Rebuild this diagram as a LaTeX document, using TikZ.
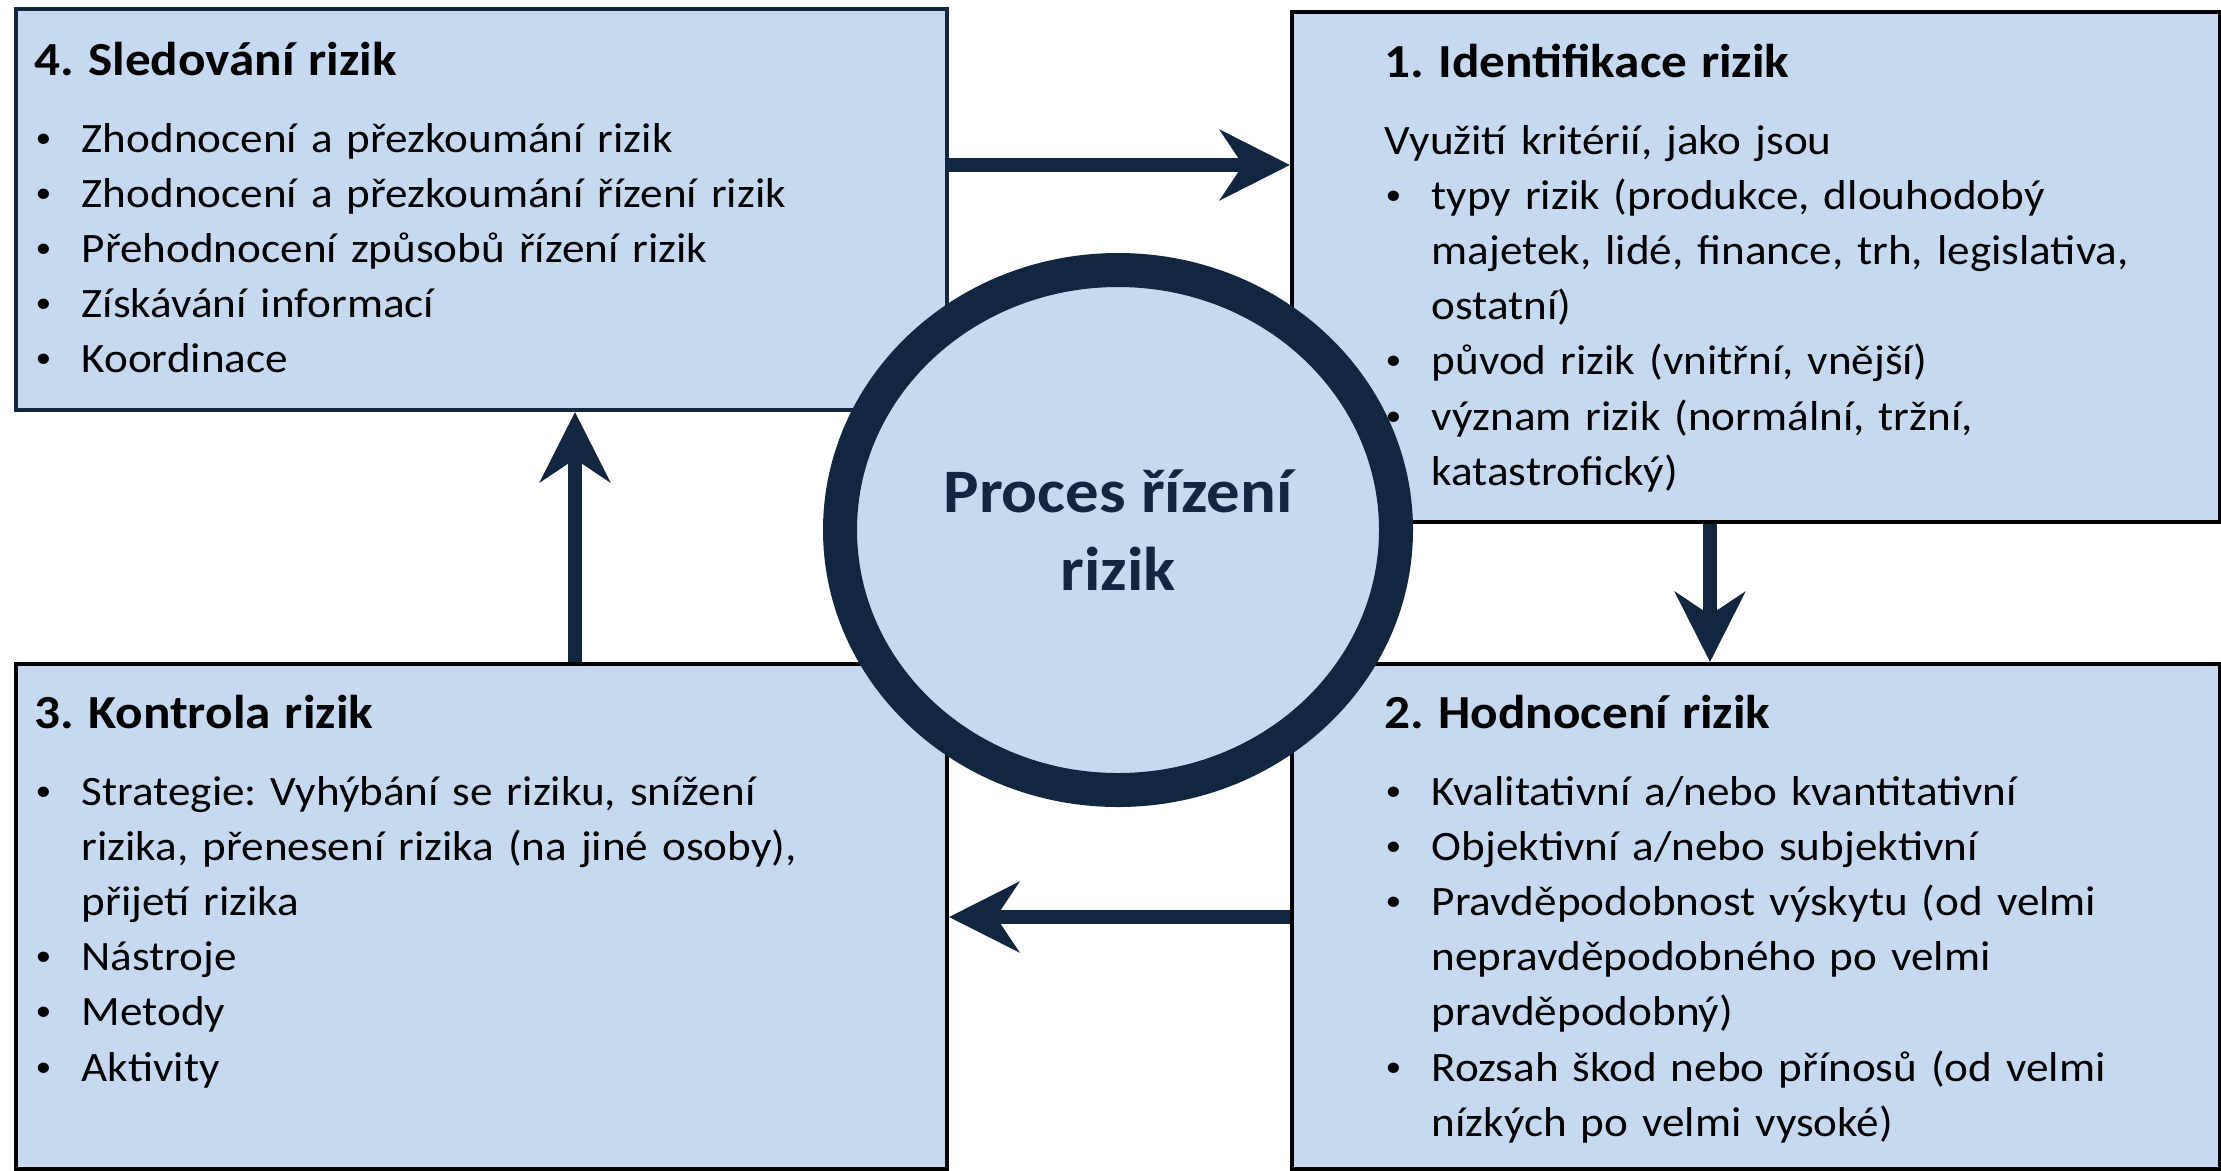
\documentclass[tikz,border=0pt]{standalone}
\usepackage{fontspec}
\setmainfont{Carlito}[FakeStretch=1.08]
\usetikzlibrary{arrows.meta, positioning, shapes.geometric}

\definecolor{navy}{RGB}{18,38,64}
\definecolor{paleblue}{RGB}{198,217,240}

\newcommand{\blt}{\makebox[4.7mm][l]{\hspace{0.1mm}\raisebox{0.25ex}{\scalebox{0.7}{\textbullet}}}}
\newcommand{\bltgap}{\hspace*{4.7mm}}
\newcommand{\boxtitle}[1]{{\bfseries\fontsize{13.5}{15}\selectfont #1}}
\frenchspacing

\begin{document}
\begin{tikzpicture}[x=0.1mm, y=-0.1mm,
      box/.style={draw, line width=0.4mm, fill=paleblue, anchor=north west,
                  inner sep=0pt},
      txt/.style={anchor=base west, inner sep=0pt, text width=100mm, align=left,
                  font=\fontsize{11.9}{15.7}\selectfont},
      flow/.style={-{Stealth[length=7mm 0, width=7mm 0, inset=2.3mm 0]},
                   line width=1.4mm, draw=navy, fill=navy}]

    \useasboundingbox (0,0) rectangle (2221,1170);

    % the four phase boxes
    \node[box, draw=navy, minimum width=93.1mm, minimum height=40.1mm] (mon)   at (14,7)     {};
    \node[box, minimum width=92.8mm, minimum height=51mm]   (ident) at (1290,10)  {};
    \node[box, minimum width=92.8mm, minimum height=50.5mm] (hodn)  at (1290,662) {};
    \node[box, minimum width=93.1mm, minimum height=50.5mm] (kontr) at (14,662)   {};

    % box contents
    \node[txt] (montxt) at ([shift={(20,68)}]mon.north west) {%
      \boxtitle{4. Sledování rizik}\\[2.2mm]
      \blt Zhodnocení a přezkoumání rizik\\
      \blt Zhodnocení a přezkoumání řízení rizik\\
      \blt Přehodnocení způsobů řízení rizik\\
      \blt Získávání informací\\
      \blt Koordinace};

    \node[txt] (identtxt) at ([shift={(94,67)}]ident.north west) {%
      \boxtitle{1. Identifikace rizik}\\[2.2mm]
      Využití kritérií, jako jsou\\
      \blt typy rizik (produkce, dlouhodobý\\
      \bltgap majetek, lidé, finance, trh, legislativa,\\
      \bltgap ostatní)\\
      \blt původ rizik (vnitřní, vnější)\\
      \blt význam rizik (normální, tržní,\\
      \bltgap katastrofický)};

    \node[txt] (hodntxt) at ([shift={(94,66)}]hodn.north west) {%
      \boxtitle{2. Hodnocení rizik}\\[2.2mm]
      \blt Kvalitativní a/nebo kvantitativní\\
      \blt Objektivní a/nebo subjektivní\\
      \blt Pravděpodobnost výskytu (od velmi\\
      \bltgap nepravděpodobného po velmi\\
      \bltgap pravděpodobný)\\
      \blt Rozsah škod nebo přínosů (od velmi\\
      \bltgap nízkých po velmi vysoké)};

    \node[txt] (kontrtxt) at ([shift={(20,66)}]kontr.north west) {%
      \boxtitle{3. Kontrola rizik}\\[2.2mm]
      \blt Strategie: Vyhýbání se riziku, snížení\\
      \bltgap rizika, přenesení rizika (na jiné osoby),\\
      \bltgap přijetí rizika\\
      \blt Nástroje\\
      \blt Metody\\
      \blt Aktivity};

    % cycle arrows
    \draw[flow] (mon.east |- 0,165)     -- (ident.west |- 0,165);
    \draw[flow] (ident.south -| 1710,0) -- (hodn.north -| 1710,0);
    \draw[flow] (hodn.west |- 0,917)    -- (kontr.east |- 0,917);
    \draw[flow] (kontr.north -| 575,0)  -- (mon.south -| 575,0);

    % centre
    \node[ellipse, draw=navy, line width=3.4mm, fill=paleblue, inner sep=0pt,
          minimum width=55.6mm, minimum height=52mm, align=center, text=navy,
          font=\bfseries\fontsize{17.6}{22.2}\selectfont] (proc) at (1118,530)
          {Proces řízení\\rizik};

\end{tikzpicture}
\end{document}
